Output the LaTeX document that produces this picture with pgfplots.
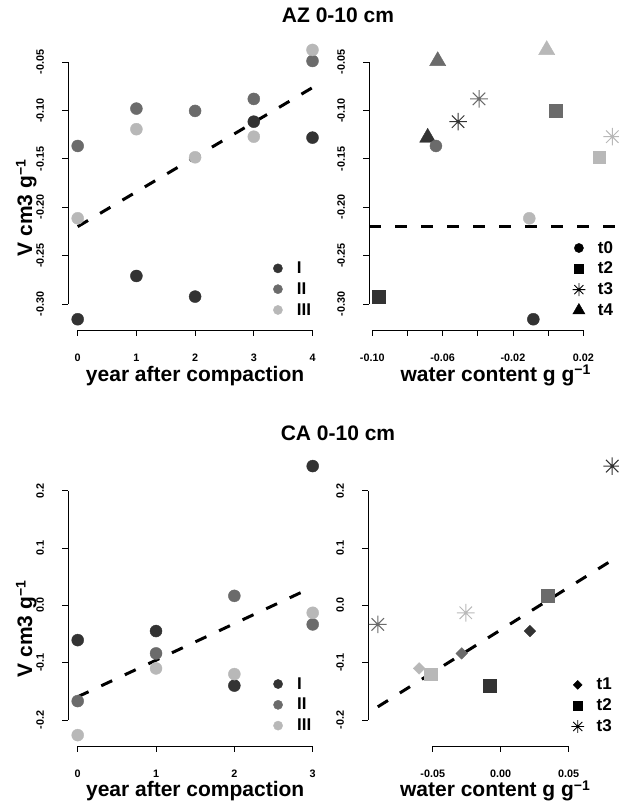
\documentclass[border=0pt]{standalone}
\usepackage{fontspec}
\setmainfont{Liberation Sans}
\usepackage{pgfplots}
\pgfplotsset{compat=1.18}

\definecolor{cD}{gray}{0.2}
\definecolor{cM}{gray}{0.42}
\definecolor{cL}{gray}{0.72}

\pgfdeclareplotmark{rstar}{%
  \pgfpathmoveto{\pgfqpoint{-\pgfplotmarksize}{0pt}}\pgfpathlineto{\pgfqpoint{\pgfplotmarksize}{0pt}}%
  \pgfpathmoveto{\pgfqpoint{0pt}{-\pgfplotmarksize}}\pgfpathlineto{\pgfqpoint{0pt}{\pgfplotmarksize}}%
  \pgfpathmoveto{\pgfqpoint{-.7071\pgfplotmarksize}{-.7071\pgfplotmarksize}}\pgfpathlineto{\pgfqpoint{.7071\pgfplotmarksize}{.7071\pgfplotmarksize}}%
  \pgfpathmoveto{\pgfqpoint{-.7071\pgfplotmarksize}{.7071\pgfplotmarksize}}\pgfpathlineto{\pgfqpoint{.7071\pgfplotmarksize}{-.7071\pgfplotmarksize}}%
  \pgfusepathqstroke}
\pgfdeclareplotmark{rdiamond}{%
  \pgfpathmoveto{\pgfqpoint{0pt}{\pgfplotmarksize}}%
  \pgfpathlineto{\pgfqpoint{\pgfplotmarksize}{0pt}}%
  \pgfpathlineto{\pgfqpoint{0pt}{-\pgfplotmarksize}}%
  \pgfpathlineto{\pgfqpoint{-\pgfplotmarksize}{0pt}}%
  \pgfpathclose\pgfusepathqfillstroke}

\newcommand{\supm}{\raisebox{0.3em}{\fontsize{14}{14}\selectfont −1}}

\pgfplotsset{
  rbase/.style={
    scale only axis, clip=false, anchor=south west,
    axis lines*=left, axis line style={draw=none},
    tick align=outside, major tick length=6pt,
    every tick/.style={black, line width=0.8pt},
    tick label style={font=\bfseries\fontsize{10.8}{12}\selectfont, inner sep=0.5pt},
    xticklabel style={anchor=base, yshift=-25.5pt},
    yticklabel style={xshift=-18.5pt, rotate=90, anchor=base},
    label style={font=\bfseries\fontsize{21}{24}\selectfont, inner sep=0pt},
    xlabel style={at={(axis description cs:0.5,-0.1755)}, anchor=base},
    legend style={draw=none, fill=none, inner sep=0pt, outer sep=0pt,
      row sep=6.8pt, column sep=12pt, anchor=north west,
      font=\bfseries\fontsize{17}{20}\selectfont,
      cells={anchor=west}, nodes={inner sep=0pt}},
    legend image code/.code={\path[draw=none, fill=none] (-7pt,-7pt) rectangle (7pt,7pt); \draw[##1] plot coordinates {(0pt,0pt)};},
  },
  pc/.style={only marks, mark=*, mark size=6pt, forget plot},
  ps/.style={only marks, mark=square*, mark size=6.3pt, forget plot},
  pst/.style={only marks, mark=rstar, mark size=8.8pt, line width=1pt, forget plot},
  ptr/.style={only marks, mark=triangle*, mark size=9.3pt, forget plot},
  pdm/.style={only marks, mark=rdiamond, mark size=5.8pt, forget plot},
  dline/.style={black, line width=3pt, dash pattern=on 12pt off 14pt, forget plot},
}

\begin{document}
\begin{tikzpicture}

% ---------------- AZ: year ----------------
\begin{axis}[rbase, at={(68.3pt,475pt)}, width=253.6pt, height=290.8pt,
  xmin=-0.16, xmax=4.16, ymin=-0.3269, ymax=-0.0265,
  xtick={0,1,2,3,4}, xticklabels={0,1,2,3,4},
  ytick={-0.30,-0.25,-0.20,-0.15,-0.10,-0.05},
  yticklabels={{-0.30},{-0.25},{-0.20},{-0.15},{-0.10},{-0.05}},
  xlabel={year after compaction},
  ylabel={V cm3 g\supm},
  ylabel style={at={(axis description cs:-0.1431,0.4195)}, anchor=base},
  legend style={at={(axis description cs:0.799,0.236)}},
]
\addlegendimage{only marks, mark=*, mark size=4.6pt, cD}\addlegendentry{I}
\addlegendimage{only marks, mark=*, mark size=4.6pt, cM}\addlegendentry{II}
\addlegendimage{only marks, mark=*, mark size=4.6pt, cL}\addlegendentry{III}
\addplot[pc, cD] coordinates {(0,-0.3158) (1,-0.2711) (2,-0.2924) (3,-0.1117) (4,-0.1282)};
\addplot[pc, cM] coordinates {(0,-0.1368) (1,-0.0982) (2,-0.1006) (3,-0.0882) (4,-0.0490)};
\addplot[pc, cL] coordinates {(0,-0.2115) (1,-0.1195) (2,-0.1485) (3,-0.1272) (4,-0.0376)};
\addplot[dline] coordinates {(0,-0.2201) (4,-0.0765)};
\draw[line width=0.8pt] (axis cs:0,-0.3269) -- (axis cs:4,-0.3269);
\draw[line width=0.8pt] (axis cs:-0.16,-0.30) -- (axis cs:-0.16,-0.05);
\end{axis}

% ---------------- AZ: water ----------------
\begin{axis}[rbase, at={(369.3pt,475pt)}, width=252.3pt, height=290.8pt,
  xmin=-0.1017, xmax=0.0418, ymin=-0.3269, ymax=-0.0265,
  xtick={-0.10,-0.08,-0.06,-0.04,-0.02,0,0.02},
  xticklabels={{-0.10},{},{-0.06},{},{-0.02},{},{0.02}},
  ytick={-0.30,-0.25,-0.20,-0.15,-0.10,-0.05},
  yticklabels={{-0.30},{-0.25},{-0.20},{-0.15},{-0.10},{-0.05}},
  xlabel={water content g g\supm},
  legend style={at={(axis description cs:0.803,0.306)}},
]
\addlegendimage{only marks, mark=*, mark size=4.6pt, black}\addlegendentry{t0}
\addlegendimage{only marks, mark=square*, mark size=4.3pt, black}\addlegendentry{t2}
\addlegendimage{only marks, mark=rstar, mark size=6.4pt, line width=0.8pt, black}\addlegendentry{t3}
\addlegendimage{only marks, mark=triangle*, mark size=7pt, black}\addlegendentry{t4}
% dark
\addplot[pc, cD]  coordinates {(-0.0084,-0.3158)};
\addplot[ps, cD]  coordinates {(-0.0964,-0.2924)};
\addplot[pst, cD] coordinates {(-0.0512,-0.1117)};
\addplot[ptr, cD] coordinates {(-0.0685,-0.1282)};
% medium
\addplot[pc, cM]  coordinates {(-0.0638,-0.1368)};
\addplot[ps, cM]  coordinates {(0.0044,-0.1006)};
\addplot[pst, cM] coordinates {(-0.0393,-0.0882)};
\addplot[ptr, cM] coordinates {(-0.0628,-0.0490)};
% light
\addplot[pc, cL]  coordinates {(-0.0107,-0.2115)};
\addplot[ps, cL]  coordinates {(0.0290,-0.1485)};
\addplot[pst, cL] coordinates {(0.0365,-0.1272)};
\addplot[ptr, cL] coordinates {(-0.0008,-0.0376)};
\addplot[dline] coordinates {(-0.1017,-0.2205) (0.0418,-0.2205)};
\draw[line width=0.8pt] (axis cs:-0.10,-0.3269) -- (axis cs:0.02,-0.3269);
\draw[line width=0.8pt] (axis cs:-0.1017,-0.30) -- (axis cs:-0.1017,-0.05);
\end{axis}

% ---------------- CA: year ----------------
\begin{axis}[rbase, at={(68.3pt,59.1pt)}, width=253.8pt, height=290.6pt,
  xmin=-0.12, xmax=3.12, ymin=-0.2452, ymax=0.2619,
  xtick={0,1,2,3}, xticklabels={0,1,2,3},
  ytick={-0.2,-0.1,0,0.1,0.2},
  yticklabels={{-0.2},{-0.1},{0.0},{0.1},{0.2}},
  xlabel={year after compaction},
  ylabel={V cm3 g\supm},
  ylabel style={at={(axis description cs:-0.143,0.4023)}, anchor=base},
  legend style={at={(axis description cs:0.799,0.237)}},
]
\addlegendimage{only marks, mark=*, mark size=4.6pt, cD}\addlegendentry{I}
\addlegendimage{only marks, mark=*, mark size=4.6pt, cM}\addlegendentry{II}
\addlegendimage{only marks, mark=*, mark size=4.6pt, cL}\addlegendentry{III}
\addplot[pc, cD] coordinates {(0,-0.0606) (1,-0.0448) (2,-0.1400) (3,0.2431)};
\addplot[pc, cM] coordinates {(0,-0.1670) (1,-0.0838) (2,0.0166) (3,-0.0332)};
\addplot[pc, cL] coordinates {(0,-0.2264) (1,-0.1100) (2,-0.1199) (3,-0.0129)};
\addplot[dline] coordinates {(0,-0.1595) (3,0.0320)};
\draw[line width=0.8pt] (axis cs:0,-0.2452) -- (axis cs:3,-0.2452);
\draw[line width=0.8pt] (axis cs:-0.12,-0.2) -- (axis cs:-0.12,0.2);
\end{axis}

% ---------------- CA: water ----------------
\begin{axis}[rbase, at={(368.4pt,59.1pt)}, width=253.2pt, height=290.6pt,
  xmin=-0.0973, xmax=0.0889, ymin=-0.2452, ymax=0.2619,
  xtick={-0.05,0,0.05},
  xticklabels={{-0.05},{0.00},{0.05}},
  ytick={-0.2,-0.1,0,0.1,0.2},
  yticklabels={{-0.2},{-0.1},{0.0},{0.1},{0.2}},
  xlabel={water content g g\supm},
  legend style={at={(axis description cs:0.799,0.234)}},
]
\addlegendimage{only marks, mark=rdiamond, mark size=4.4pt, black}\addlegendentry{t1}
\addlegendimage{only marks, mark=square*, mark size=4.3pt, black}\addlegendentry{t2}
\addlegendimage{only marks, mark=rstar, mark size=6.4pt, line width=0.8pt, black}\addlegendentry{t3}
% dark
\addplot[pdm, cD] coordinates {(0.0215,-0.0448)};
\addplot[ps, cD]  coordinates {(-0.0079,-0.1400)};
\addplot[pst, cD] coordinates {(0.0820,0.2431)};
% medium
\addplot[pdm, cM] coordinates {(-0.0287,-0.0838)};
\addplot[ps, cM]  coordinates {(0.0345,0.0166)};
\addplot[pst, cM] coordinates {(-0.0904,-0.0332)};
% light
\addplot[pdm, cL] coordinates {(-0.0600,-0.1100)};
\addplot[ps, cL]  coordinates {(-0.0513,-0.1199)};
\addplot[pst, cL] coordinates {(-0.0257,-0.0129)};
\addplot[dline] coordinates {(-0.0904,-0.1770) (0.0820,0.0790)};
\draw[line width=0.8pt] (axis cs:-0.05,-0.2452) -- (axis cs:0.05,-0.2452);
\draw[line width=0.8pt] (axis cs:-0.0973,-0.2) -- (axis cs:-0.0973,0.2);
\end{axis}

\node[anchor=base, font=\bfseries\fontsize{21}{24}\selectfont] at (338pt,782pt) {AZ 0-10 cm};
\node[anchor=base, font=\bfseries\fontsize{21}{24}\selectfont] at (338pt,364pt) {CA 0-10 cm};

\pgfresetboundingbox
\useasboundingbox (0,0) rectangle (618pt,805pt);
\end{tikzpicture}
\end{document}
